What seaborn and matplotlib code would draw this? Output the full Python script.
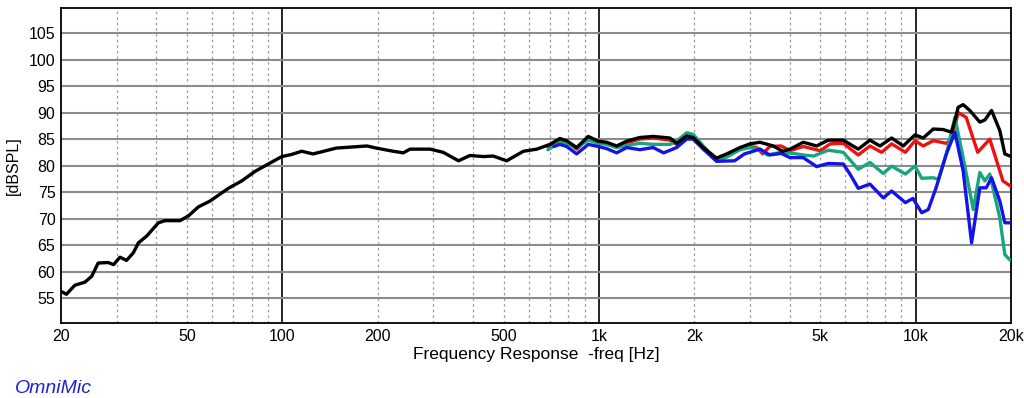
import matplotlib
matplotlib.use("Agg")
import matplotlib.pyplot as plt
import matplotlib.ticker as mticker
import pandas as pd
import seaborn as sns

# Black trace (full range)
freq_black = [20.1, 20.8, 22.1, 23.8, 25.0, 26.2, 28.2, 29.3, 30.7, 32.2, 33.8, 35.1, 37.3,
              40.6, 42.6, 47.5, 50.5, 54.3, 59.1, 67.5, 74.4, 82.0, 90.3, 99.6, 107, 115,
              125, 131, 148, 185, 198, 224, 241, 253, 293, 322, 360, 391, 431, 463, 511,
              577, 636, 700, 752, 790, 850, 925, 994, 1057, 1137, 1222, 1346, 1483, 1675,
              1758, 1891, 1984, 2134, 2351, 2530, 2787, 2996, 3223, 3550, 3800, 4011, 4416,
              4867, 5296, 5906, 6587, 7170, 7712, 8397, 9135, 9952, 10565, 11360, 12212,
              12979, 13300, 13620, 14123, 14826, 15946, 16537, 17361, 18440, 19123, 19840]
spl_black = [56.2, 55.7, 57.4, 58.0, 59.1, 61.6, 61.7, 61.3, 62.7, 62.1, 63.5, 65.4, 66.7,
             69.2, 69.6, 69.6, 70.5, 72.2, 73.3, 75.7, 77.1, 78.9, 80.3, 81.7, 82.1, 82.7,
             82.2, 82.5, 83.3, 83.7, 83.3, 82.7, 82.4, 83.1, 83.1, 82.5, 80.9, 81.9, 81.7,
             81.8, 80.9, 82.7, 83.1, 84.0, 85.1, 84.7, 83.4, 85.5, 84.6, 84.4, 83.7, 84.6,
             85.3, 85.5, 85.2, 84.2, 85.6, 85.3, 83.4, 81.4, 82.2, 83.4, 84.1, 84.4, 83.7,
             82.7, 83.1, 84.4, 83.7, 84.8, 84.8, 83.1, 84.8, 83.7, 85.2, 83.7, 85.8, 85.2,
             86.9, 86.8, 86.3, 88.5, 91.0, 91.5, 90.4, 88.2, 88.6, 90.4, 86.6, 82.2, 81.8]

# Red trace
freq_red = [690, 752, 790, 850, 925, 994, 1057, 1137, 1222, 1346, 1483, 1675, 1758, 1891,
            1984, 2134, 2351, 2530, 2787, 2996, 3150, 3290, 3460, 3760, 4011, 4416, 5000,
            5370, 5906, 6587, 7170, 7807, 8397, 9280, 9952, 10565, 11360, 12500, 12979,
            13620, 14440, 15700, 17140, 18860, 19840]
spl_red = [83.5, 85.0, 84.5, 83.1, 85.2, 84.4, 84.2, 83.4, 84.3, 85.0, 85.2, 84.8, 84.0,
           85.4, 85.1, 83.3, 81.2, 81.8, 83.1, 83.6, 83.4, 82.2, 83.6, 83.7, 82.8, 83.6,
           82.8, 84.1, 84.2, 82.0, 83.7, 82.5, 84.1, 82.5, 84.7, 83.7, 84.7, 84.2, 85.0,
           90.0, 89.1, 82.5, 85.0, 77.1, 76.2]

# Green trace
freq_green = [690, 752, 790, 850, 925, 994, 1057, 1137, 1222, 1346, 1483, 1675, 1758, 1891,
              1984, 2134, 2351, 2530, 2787, 2996, 3223, 3400, 3760, 4100, 4416, 4760, 5296,
              5906, 6587, 7170, 7900, 8397, 9280, 9952, 10450, 11360, 11790, 12500, 13300,
              14123, 15200, 15946, 16537, 17140, 18440, 19123, 19840]
spl_green = [83.0, 84.4, 84.2, 83.4, 84.8, 84.2, 84.0, 83.4, 83.8, 84.2, 84.0, 84.0, 84.6,
             86.2, 85.9, 83.7, 80.9, 81.6, 83.0, 83.4, 83.1, 82.0, 82.5, 82.3, 82.0, 81.8,
             82.9, 82.5, 79.3, 80.6, 78.5, 79.9, 78.4, 79.9, 77.6, 77.7, 77.4, 82.2, 89.1,
             81.5, 71.7, 78.7, 77.1, 78.4, 70.1, 63.2, 62.2]

# Blue trace
freq_blue = [720, 752, 790, 850, 925, 994, 1057, 1137, 1222, 1346, 1483, 1600, 1758, 1891,
             1984, 2134, 2351, 2680, 2880, 3223, 3460, 3760, 4011, 4416, 4867, 5296, 5906,
             6200, 6587, 7170, 7900, 8397, 9280, 9800, 10450, 10960, 11600, 12500, 13300,
             14123, 15016, 15946, 16700, 17360, 18440, 19123, 19840]
spl_blue = [83.6, 84.0, 83.6, 82.2, 84.0, 83.6, 83.2, 82.4, 83.4, 83.0, 83.4, 82.4, 83.4,
            85.0, 85.0, 83.1, 80.8, 80.9, 82.2, 83.1, 82.0, 82.3, 81.5, 81.5, 79.8, 80.4,
            80.3, 78.4, 75.7, 76.5, 73.9, 75.2, 73.0, 73.8, 71.1, 71.7, 75.8, 82.2, 86.3,
            79.0, 65.4, 75.8, 75.8, 77.7, 73.3, 69.2, 69.2]

y_ticks = [55, 60, 65, 70, 75, 80, 85, 90, 95, 100, 105]
x_ticks = [20, 50, 100, 200, 500, 1000, 2000, 5000, 10000, 20000]
x_labels = ["20", "50", "100", "200", "500", "1k", "2k", "5k", "10k", "20k"]

sns.set_style("white")
plt.rcParams["font.family"] = ["Liberation Sans", "DejaVu Sans"]

fig = plt.figure(figsize=(10.24, 3.98), dpi=100)
ax = fig.add_axes([0.0596, 0.188, 0.9277, 0.792])

# grid lines
minor = [m * d for d in (10, 100, 1000) for m in range(2, 10)]
minor = [v for v in minor if 20 < v < 20000]
for v in minor:
    ax.axvline(v, color="#9a9a9a", lw=0.9, ls=(0, (2, 2.5)), zorder=1)
for v in (100, 1000, 10000):
    ax.axvline(v, color="black", lw=1.2, zorder=1)
for v in y_ticks:
    ax.axhline(v, color="#8c8c8c", lw=1.5, zorder=1)

traces = [
    (freq_red, spl_red, "#ee1111"),
    (freq_green, spl_green, "#16a87c"),
    (freq_blue, spl_blue, "#1414e6"),
    (freq_black, spl_black, "black"),
]
for f, s, c in traces:
    df = pd.DataFrame({"freq": f, "spl": s})
    sns.lineplot(data=df, x="freq", y="spl", ax=ax, color=c, lw=2.4,
                 estimator=None, sort=False, zorder=3)

ax.set_xscale("log")
ax.set_xlim(20, 20000)
ax.set_ylim(50.25, 109.75)
ax.set_xticks(x_ticks)
ax.set_xticklabels(x_labels)
ax.xaxis.set_minor_locator(mticker.NullLocator())
ax.set_yticks(y_ticks)
ax.tick_params(length=0, labelsize=11.5, colors="black", labelcolor="black", pad=4)
ax.set_xlabel("Frequency Response  -freq [Hz]", fontsize=12.5, labelpad=2, color="black")
ax.set_ylabel("[dBSPL]", fontsize=11.5, labelpad=6, color="black")
for sp in ax.spines.values():
    sp.set_color("black")
    sp.set_linewidth(1.3)

fig.text(0.0146, 0.0126, "OmniMic", color="#2020d0", fontsize=14, style="italic",
         va="baseline")

fig.savefig("out.png", dpi=100)
